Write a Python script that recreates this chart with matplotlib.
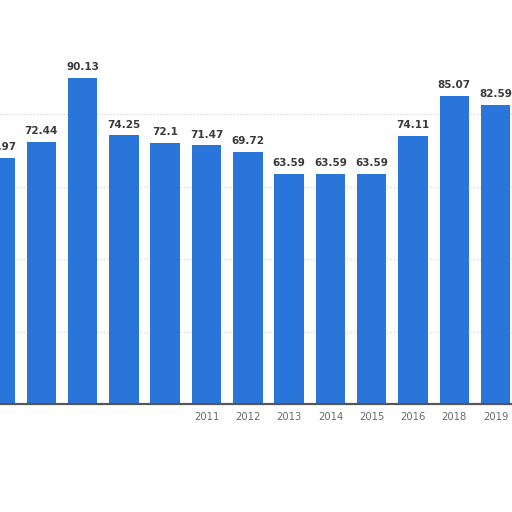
import numpy as np
import matplotlib
matplotlib.use('Agg')
import matplotlib.pyplot as plt

years = ['2006', '2007', '2008', '2009', '2010', '2011', '2012',
         '2013', '2014', '2015', '2016', '2018', '2019']
values = [67.97, 72.44, 90.13, 74.25, 72.1, 71.47, 69.72,
          63.59, 63.59, 63.59, 74.11, 85.07, 82.59]
# the first labels are washed out in the picture
shown_years = ['', '', '', '', '', '2011', '2012',
               '2013', '2014', '2015', '2016', '2018', '2019']

fig = plt.figure(figsize=(5.12, 5.12), dpi=100)
ax = fig.add_axes([0, 0.211, 1, 0.789])

x = np.arange(len(years))
bars = ax.bar(x, values, width=0.715, color='#2a75d9', zorder=3)

for xi, v in zip(x, values):
    ax.annotate(f'{v:g}', (xi, v), xytext=(0, 4), textcoords='offset points',
                ha='center', va='bottom', fontsize=7.5, fontweight='bold',
                color='#3a3a3a', zorder=4)

ax.set_xlim(0, 512 / 41.3)
ax.set_ylim(0, 111.6)

for g in [20, 40, 60, 80]:
    ax.axhline(g, color='#d0d0d0', lw=0.8, ls=(0, (1, 2)), zorder=1)

ax.set_xticks(x)
ax.set_xticklabels(shown_years, fontsize=7.2, color='#6a6a6a')
ax.tick_params(axis='x', length=0, pad=6)
ax.set_yticks([])

for side in ['top', 'left', 'right']:
    ax.spines[side].set_visible(False)
ax.spines['bottom'].set_color('#555555')
ax.spines['bottom'].set_linewidth(1.6)
ax.spines['bottom'].set_zorder(5)

fig.savefig('out.png', dpi=100)
